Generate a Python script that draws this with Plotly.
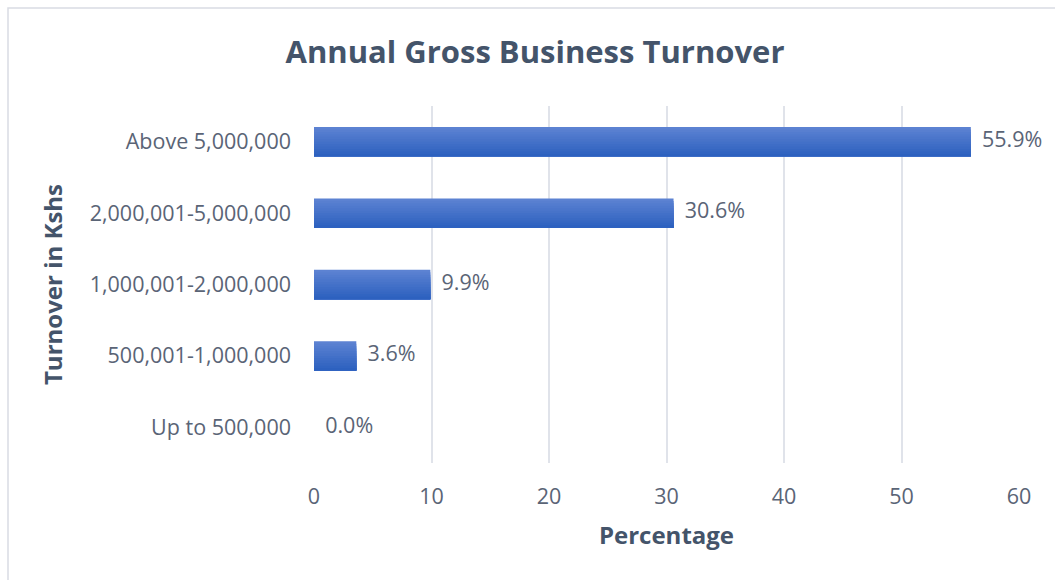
import plotly.graph_objects as go

categories = ["Up to 500,000", "500,001-1,000,000", "1,000,001-2,000,000",
              "2,000,001-5,000,000", "Above 5,000,000"]
values = [0.0, 3.6, 9.9, 30.6, 55.9]
labels = ["0.0%", "3.6%", "9.9%", "30.6%", "55.9%"]
x_ticks = [0, 10, 20, 30, 40, 50, 60]

FONT = "Open Sans"
TICK_COLOR = "#5A6476"
TITLE_COLOR = "#44546A"

fig = go.Figure()

# gradient-looking bars: overlaid bars of decreasing width, lighter on top
bar_w = 0.41
N = 12
top = (0x5C, 0x82, 0xD2)
bot = (0x2D, 0x61, 0xBF)
for i in range(N):
    t = i / (N - 1)
    c = tuple(round(top[k] + (bot[k] - top[k]) * t) for k in range(3))
    fig.add_trace(go.Bar(
        y=categories, x=values, orientation="h",
        width=bar_w * (N - i) / N, offset=-bar_w / 2,
        marker=dict(color="rgb(%d,%d,%d)" % c, line=dict(width=0)),
        showlegend=False, hoverinfo="skip" if i else "x+y",
    ))

fig.add_trace(go.Scatter(
    y=categories, x=values, mode="text",
    text=["\u00a0\u00a0" + s for s in labels], textposition="middle right",
    textfont=dict(family=FONT, size=21.5, color=TICK_COLOR),
    showlegend=False, hoverinfo="skip", cliponaxis=False,
))

px0, px1, py0, py1 = 314, 1019, 106, 463
def paper_x(p): return (p - px0) / (px1 - px0)
def paper_y(p): return (py1 - p) / (py1 - py0)

fig.add_shape(type="rect", xref="paper", yref="paper",
              x0=paper_x(8), x1=paper_x(1070), y0=paper_y(600), y1=paper_y(8),
              line=dict(color="#D9DCE3", width=1.5), fillcolor="rgba(0,0,0,0)",
              layer="below")

fig.update_layout(
    width=1055, height=580,
    margin=dict(l=px0, r=1055 - px1, t=py0, b=580 - py1),
    paper_bgcolor="white", plot_bgcolor="white",
    barmode="overlay",
    title=dict(text="<b>Annual Gross Business Turnover</b>",
               font=dict(family=FONT, size=31, color=TITLE_COLOR),
               x=535 / 1055, xanchor="center", y=1 - 52 / 580, yanchor="middle"),
    xaxis=dict(range=[0, 60], tickvals=x_ticks, showgrid=True,
               gridcolor="#E0E3EA", gridwidth=2, zeroline=False, showline=False,
               tickfont=dict(family=FONT, size=21.5, color=TICK_COLOR),
               ticklabelstandoff=18,
               title=dict(text="<b>Percentage</b>", standoff=18,
                          font=dict(family=FONT, size=24, color=TITLE_COLOR))),
    yaxis=dict(categoryorder="array", categoryarray=categories,
               showgrid=False, zeroline=False, showline=False,
               tickfont=dict(family=FONT, size=21.5, color=TICK_COLOR),
               ticklabelstandoff=22,
               title=dict(text="<b>Turnover in Kshs</b>", standoff=20,
                          font=dict(family=FONT, size=24, color=TITLE_COLOR))),
)

fig.write_html("out.html")
